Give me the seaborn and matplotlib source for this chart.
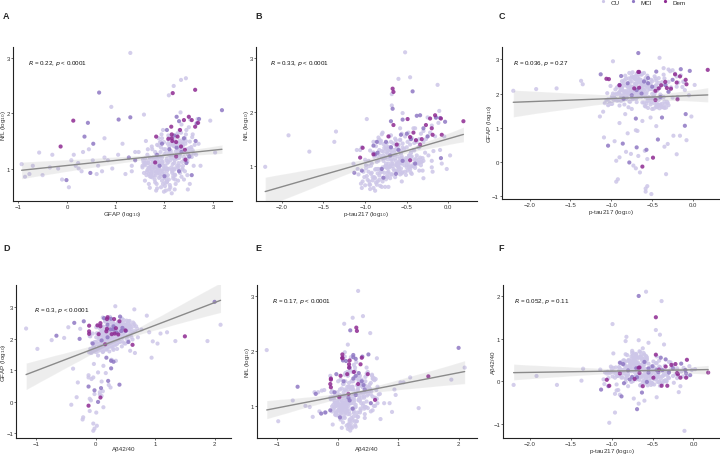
import pandas as pd
import numpy as np
import matplotlib
matplotlib.use("Agg")
import matplotlib.pyplot as plt
from matplotlib.lines import Line2D
import seaborn as sns


# CU - scattered / outlying subjects
out_gfap = [2.08, 2.13, 2.15, 2.27, 2.37, 1.30, 2.44, 2.34, 2.19, 2.09,
            0.91, 2.45, 1.93, 2.21, 1.93, 2.17, 1.92, 1.40, 2.21, 2.74,
            2.94, 3.04, 2.33, 1.68, 1.96, 2.03, 2.37, 2.32, 2.05, 2.30,
            1.85]
out_nfl = [0.99, 1.57, 1.27, 1.64, 1.45, 3.10, 2.64, 2.61, 2.50, 2.33,
           2.12, 1.70, 1.48, 1.52, 0.96, 1.43, 1.20, 1.30, 0.89, 1.05,
           1.87, 1.29, 2.02, 0.72, 1.10, 1.00, 0.98, 1.28, 0.76, 1.05,
           1.43]
out_ptau = [-2.20, -1.92, -1.67, -1.35, -1.37, -0.52, -0.46, -0.60, -0.13, -0.68,
            -0.68, -0.58, -0.39, -0.46, -0.99, -0.41, -0.67, -0.83, -0.55, -0.36,
            -0.98, -0.41, -0.11, -1.03, -0.96, -0.67, -0.60, -0.18, -0.75, -0.62,
            -0.82]
out_ab = [-0.09, 0.12, -0.09, 0.29, 0.01, 0.34, 0.42, 0.25, 0.11, 0.54,
          0.17, 2.10, 1.88, 1.20, 1.34, 1.09, 0.96, 0.94, 0.90, 0.86,
          0.65, 0.33, -1.17, -0.98, -0.74, -0.53, -0.46, -0.26, 0.71, 0.77,
          1.04]

# CU - low GFAP cluster
low_gfap = [-0.93, -0.86, -0.77, -0.70, -0.57, -0.50, -0.35, -0.30, -0.18, -0.10,
            0.04, 0.09, 0.18, 0.14, 0.23, 0.24, 0.30, 0.33, 0.53, 0.61,
            0.64, 0.72, 0.77, 0.77, 0.84, 0.93, 1.14, 1.33, 1.47, 1.58,
            1.66, 1.33, 1.83, 1.05, 0.45, 1.20]
low_nfl = [1.08, 0.85, 0.90, 1.05, 1.29, 0.88, 1.02, 1.25, 1.00, 0.80,
           0.66, 1.15, 1.05, 1.25, 1.10, 1.00, 0.95, 1.30, 1.15, 0.90,
           1.05, 0.95, 1.20, 1.55, 1.15, 1.00, 1.45, 1.05, 1.30, 1.98,
           1.35, 0.95, 0.60, 1.25, 1.35, 0.90]
low_ptau = [-0.51, -0.58, -0.58, -0.56, -0.94, -0.92, -0.33, -0.65, -0.70, -0.73,
            -0.94, -0.56, -0.67, -0.90, -0.20, -0.76, -0.82, -0.59, -0.31, -0.96,
            -0.08, -1.09, -0.24, -0.16, -0.80, -0.70, -0.90, -1.14, -1.10, -0.55,
            -1.04, -0.02, -1.04, -0.45, -0.35, -0.62]
low_ab = [-0.04, -0.02, 0.02, -0.04, -0.22, -0.21, 0.01, -0.10, 0.13, -0.41,
          -0.08, -0.10, 0.10, -0.32, 0.07, -0.02, 0.07, 0.12, 0.22, -0.30,
          0.10, -0.07, -0.04, -0.12, -0.12, 0.04, 0.13, 0.27, 0.04, 0.12,
          0.18, 0.26, 0.07, -0.38, 0.25, -0.03]

# CU - main cloud
main_gfap = [2.02, 1.88, 2.15, 1.95, 2.31, 2.08, 1.79, 2.22, 1.99, 2.12,
             1.84, 2.27, 2.05, 1.92, 2.18, 2.40, 1.73, 2.10, 1.97, 2.25,
             1.86, 2.03, 2.14, 1.90, 2.35, 2.00, 1.81, 2.20, 2.07, 1.94,
             2.29, 2.11, 1.77, 2.45, 1.98, 2.16, 1.89, 2.33, 2.04, 1.70,
             2.21, 1.93, 2.09, 2.38, 1.85, 2.13, 2.01, 1.96, 2.24, 1.82,
             2.06, 2.28, 1.91, 2.17, 1.75, 2.50, 1.99, 2.12, 1.87, 2.32,
             2.03, 1.80, 2.19, 1.95, 2.42, 2.08, 1.68, 2.23, 1.94, 2.15,
             1.88, 2.36, 2.00, 1.83, 2.26, 2.10, 1.90, 2.55, 2.02, 1.78,
             2.18, 1.97, 2.30, 2.05, 1.86, 2.14, 2.47, 1.93, 2.21, 1.76,
             2.09, 2.00, 2.34, 1.84, 2.12, 1.98, 2.27, 1.72, 2.06, 2.40,
             1.91, 2.16, 2.04, 1.95, 2.20, 1.89, 2.11, 2.02, 2.29, 1.96,
             2.60, 1.65, 2.08, 2.37, 1.85, 2.13, 1.99, 2.22, 1.92, 2.05,
             2.18, 1.81, 2.44, 2.00, 2.07, 1.60, 2.52, 1.74, 2.31, 2.15,
             1.88, 2.58, 2.65, 2.50, 1.62, 2.35, 1.70, 2.70, 1.55, 2.48,
             2.20, 1.90, 2.05, 2.10, 1.95, 2.25, 2.53, 2.68]
main_nfl = [1.05, 0.92, 1.22, 0.78, 1.35, 1.12, 1.01, 0.88, 1.48, 0.66,
            1.18, 1.02, 0.95, 1.30, 0.82, 1.15, 0.90, 1.40, 0.72, 1.25,
            1.08, 0.60, 1.55, 0.98, 0.85, 1.26, 0.75, 1.10, 0.88, 1.62,
            0.98, 0.70, 1.20, 1.30, 1.05, 0.92, 0.83, 1.45, 1.15, 1.02,
            0.62, 1.38, 0.80, 1.05, 0.96, 1.32, 0.68, 1.12, 1.60, 0.87,
            1.00, 0.78, 1.22, 1.08, 1.35, 1.20, 0.58, 1.45, 1.00, 0.92,
            1.28, 0.80, 1.18, 0.90, 0.95, 1.52, 1.10, 0.72, 1.15, 0.98,
            1.42, 1.12, 0.82, 1.25, 1.05, 0.62, 1.05, 1.35, 1.35, 0.94,
            0.86, 1.70, 1.22, 0.75, 1.12, 1.02, 0.88, 0.66, 1.40, 1.15,
            1.25, 0.90, 1.65, 0.72, 1.15, 1.00, 1.30, 0.85, 1.10, 0.80,
            1.48, 0.95, 0.85, 1.20, 1.00, 1.10, 1.30, 0.74, 1.10, 0.95,
            1.05, 1.25, 1.60, 1.00, 0.64, 1.20, 1.35, 0.80, 0.85, 1.18,
            1.50, 1.30, 1.50, 0.98, 1.45, 0.78, 0.72, 1.40, 1.70, 0.55,
            1.55, 1.62, 1.25, 1.75, 1.50, 1.80, 0.65, 1.45, 1.05, 0.62,
            0.98, 0.90, 0.78, 1.30, 1.55, 1.20, 1.89, 1.90]
main_ptau = [-0.72, -0.81, -0.64, -0.88, -0.55, -0.69, -0.93, -0.77, -0.58, -0.95,
             -0.70, -0.62, -0.84, -0.66, -0.74, -0.51, -1.02, -0.60, -0.79, -0.45,
             -0.86, -0.90, -0.52, -0.75, -0.68, -0.57, -0.97, -0.63, -0.82, -0.48,
             -0.71, -0.87, -0.78, -0.42, -0.92, -0.65, -0.83, -0.38, -0.76, -0.99,
             -0.80, -0.61, -0.89, -0.58, -0.73, -0.53, -1.05, -0.67, -0.33, -0.85,
             -0.74, -0.70, -0.88, -0.59, -0.69, -0.47, -0.94, -0.49, -0.96, -0.62,
             -0.80, -0.91, -0.56, -0.72, -0.66, -0.44, -0.84, -0.85, -0.64, -0.79,
             -0.55, -0.50, -0.98, -0.74, -0.60, -0.76, -0.68, -0.36, -0.71, -0.88,
             -0.93, -0.40, -0.57, -0.83, -1.00, -0.63, -0.73, -0.86, -0.46, -0.77,
             -0.65, -0.80, -0.30, -0.95, -0.70, -0.60, -0.54, -1.08, -0.78, -0.64,
             -0.63, -0.87, -0.68, -0.82, -0.75, -0.58, -0.73, -0.91, -0.52, -0.85,
             -0.60, -0.90, -0.56, -0.45, -0.82, -0.66, -0.50, -1.01, -0.70, -0.61,
             -0.27, -1.06, -0.35, -0.47, -0.85, -0.79, -0.56, -0.62, -0.42, -0.88,
             -0.25, -0.22, -0.28, -0.20, -0.45, -0.12, -1.00, -0.30, -0.75, -0.72,
             -0.20, -0.19, -0.30, -0.10, -0.05, 0.02, -0.15, -0.25]
main_ab = [0.21, 0.15, 0.30, 0.08, 0.41, 0.26, 0.12, 0.33, 0.05, 0.18,
           0.36, 0.14, 0.44, 0.22, 0.02, 0.27, 0.19, 0.39, 0.31, 0.10,
           0.48, 0.24, 0.17, 0.29, 0.06, 0.52, 0.20, 0.37, 0.13, 0.25,
           0.45, 0.09, 0.28, 0.34, 0.16, 0.58, -0.02, 0.23, 0.40, 0.11,
           0.19, 0.32, 0.26, 0.15, 0.50, 0.07, 0.22, 0.35, 0.18, 0.27,
           0.60, 0.12, 0.42, -0.05, 0.24, 0.30, 0.17, 0.46, 0.08, 0.38,
           0.14, 0.33, 0.21, 0.55, 0.03, 0.28, 0.36, 0.20, 0.10, 0.47,
           0.19, 0.25, 0.31, 0.00, 0.43, 0.23, 0.39, 0.16, 0.34, 0.26,
           0.12, 0.29, 0.50, 0.05, 0.22, 0.30, 0.37, 0.18, 0.09, 0.44,
           -0.10, 0.27, 0.21, 0.32, 0.14, 0.62, 0.26, 0.20, 0.35, 0.11,
           0.40, 0.24, 0.17, 0.33, 0.07, 0.28, 0.53, 0.25, 0.19, 0.38,
           0.23, 0.30, 0.13, 0.42, 0.15, 0.27, 0.20, 0.34, 0.45, 0.01,
           0.31, 0.18, 0.36, 0.12, 0.26, 0.23, 0.28, 0.10, 0.48, 0.21,
           0.37, 0.16, 0.44, 0.27, 0.58, 0.31, 0.29, 0.24, 0.66, 0.30,
           0.30, 0.15, 0.45, 0.25, 0.35, 0.28, 0.22, 0.12]

# CU - upper part of the cloud (high GFAP, high Abeta)
hi_gfap = [2.35, 2.48, 2.22, 2.55, 2.30, 2.42, 2.26, 2.60, 2.38, 2.20,
           2.52, 2.33, 2.45, 2.28, 2.58, 2.24, 2.40, 2.36, 2.50, 2.31,
           2.62, 2.27, 2.44, 2.21, 2.54, 2.39, 2.29, 2.47, 2.34, 2.57,
           2.23, 2.43, 2.32, 2.51, 2.37, 2.25, 2.46, 2.56, 2.19, 2.41]
hi_nfl = [1.32, 1.25, 1.47, 1.39, 1.19, 1.55, 1.35, 1.27, 1.42, 1.23,
          1.49, 1.29, 1.17, 1.45, 1.33, 1.59, 1.21, 1.37, 1.31, 1.51,
          1.43, 1.27, 1.62, 1.15, 1.23, 1.53, 1.39, 1.13, 1.34, 1.57,
          1.31, 1.45, 1.22, 1.37, 1.49, 1.18, 1.35, 1.21, 1.41, 1.29]
hi_ptau = [-0.75, -0.68, -0.81, -0.63, -0.85, -0.71, -0.61, -0.78, -0.66, -0.73,
           -0.83, -0.59, -0.76, -0.69, -0.62, -0.80, -0.65, -0.87, -0.71, -0.64,
           -0.74, -0.57, -0.79, -0.70, -0.67, -0.84, -0.60, -0.73, -0.77, -0.69,
           -0.63, -0.82, -0.66, -0.75, -0.58, -0.89, -0.72, -0.64, -0.78, -0.70]
hi_ab = [0.52, 0.44, 0.61, 0.38, 0.49, 0.57, 0.66, 0.47, 0.55, 0.41,
         0.63, 0.45, 0.58, 0.36, 0.52, 0.48, 0.68, 0.40, 0.54, 0.60,
         0.43, 0.56, 0.50, 0.62, 0.39, 0.46, 0.53, 0.65, 0.42, 0.57,
         0.49, 0.35, 0.70, 0.46, 0.59, 0.44, 0.51, 0.55, 0.38, 0.64]

# CU - lower part of the cloud (lower GFAP, low Abeta)
lo_gfap = [1.72, 1.65, 1.80, 1.58, 1.85, 1.68, 1.76, 1.62, 1.88, 1.70,
           1.55, 1.82, 1.66, 1.78, 1.60, 1.90, 1.74, 1.57, 1.84, 1.69,
           1.79, 1.63, 1.87, 1.71, 1.59, 1.83, 1.67, 1.75, 1.61, 1.89,
           1.73, 1.56, 1.81, 1.64, 1.77, 1.70, 1.86, 1.60, 1.78, 1.68]
lo_nfl = [1.04, 0.97, 1.12, 0.92, 1.17, 0.90, 1.08, 1.14, 1.00, 1.20,
          1.02, 0.94, 1.10, 0.87, 1.18, 1.06, 0.98, 1.12, 0.92, 1.16,
          1.02, 0.88, 1.14, 0.96, 1.08, 1.20, 1.00, 0.84, 1.06, 1.10,
          0.92, 1.16, 1.04, 0.94, 1.12, 0.86, 0.98, 1.10, 1.18, 1.02]
lo_ptau = [-0.48, -0.40, -0.55, -0.35, -0.45, -0.52, -0.32, -0.58, -0.42, -0.38,
           -0.50, -0.46, -0.30, -0.56, -0.44, -0.36, -0.60, -0.41, -0.49, -0.34,
           -0.53, -0.45, -0.39, -0.57, -0.33, -0.47, -0.43, -0.51, -0.37, -0.54,
           -0.31, -0.48, -0.42, -0.59, -0.35, -0.44, -0.50, -0.38, -0.46, -0.40]
lo_ab = [0.05, -0.05, 0.13, 0.01, 0.09, -0.09, 0.15, 0.03, -0.02, 0.11,
         -0.07, 0.17, 0.07, -0.03, 0.12, 0.00, 0.14, -0.11, 0.08, 0.02,
         0.16, 0.06, -0.06, 0.10, -0.01, 0.04, 0.18, -0.04, 0.13, 0.01,
         0.09, -0.08, 0.11, 0.03, 0.15, -0.02, 0.07, -0.05, 0.12, 0.05]

# MCI
mci_gfap = [0.66, 3.18, 2.71, 2.66, 2.25, 2.30, 2.25, 2.51, 2.10, 2.64,
            2.00, 2.56, 1.30, 1.06, 1.40, 1.27, 0.48, 0.54, 0.36, 0.43,
            -0.01, 2.20, 1.95, 2.35, 2.05, 1.85, 2.40, 2.45, 1.90, 2.30]
mci_nfl = [2.38, 2.06, 1.90, 1.82, 1.94, 1.86, 1.38, 1.22, 1.35, 1.50,
           0.86, 0.88, 1.93, 1.89, 1.15, 1.20, 0.92, 1.45, 1.58, 1.83,
           0.79, 1.60, 1.45, 1.30, 1.70, 1.25, 1.55, 1.10, 1.05, 0.95]
mci_ptau = [-0.43, -0.67, -0.15, -0.04, -0.34, -0.55, -0.90, -0.88, -0.69, -0.45,
            -0.63, -1.13, -0.38, -0.10, -0.09, -0.70, -1.04, -0.86, -0.57, -0.69,
            -0.78, -0.50, -0.75, -0.60, -0.30, -0.85, -0.25, -0.55, -0.40, -0.80]
mci_ab = [0.21, 2.00, 0.41, 0.14, 0.51, 0.30, 0.43, -0.36, -0.66, 0.26,
          -0.27, -0.20, 0.26, 0.26, 0.18, 0.30, -0.12, 0.40, -0.02, 0.09,
          0.04, 0.35, 0.10, 0.45, 0.20, -0.05, 0.30, 0.20, 0.55, 0.25]

# Dem
dem_gfap = [2.63, 2.17, 2.69, 2.50, 2.56, 2.63, 2.42, 2.24, 2.43, 2.15,
            2.16, 2.24, 2.32, 1.83, 1.81, 2.08, 2.15, 2.40, 2.14, 2.27,
            2.34, -0.13, 0.13]
dem_nfl = [2.43, 2.37, 1.83, 1.94, 1.88, 1.76, 1.34, 1.22, 1.16, 1.62,
           1.50, 1.48, 1.70, 1.58, 1.11, 1.54, 1.55, 1.88, 1.76, 1.58,
           1.40, 1.40, 1.87]
dem_ptau = [-0.67, -0.66, 0.18, -0.16, -0.22, -0.66, -1.03, -0.90, -1.06, -0.42,
            -0.32, -0.39, -0.20, -0.19, -0.46, -0.46, -0.72, -0.09, -0.27, -0.08,
            -0.34, -0.62, -0.49]
dem_ab = [0.31, 0.32, 0.20, 0.08, 0.40, 0.19, -0.11, 0.18, 0.03, 0.27,
          -0.11, -0.11, 0.19, 0.16, 0.62, 1.50, 0.05, 0.08, 0.38, 0.50,
          0.34, -0.12, 0.08]


# BUILD DATAFRAME
cu = pd.DataFrame({"gfap": out_gfap + low_gfap + main_gfap + hi_gfap + lo_gfap,
                   "nfl": out_nfl + low_nfl + main_nfl + hi_nfl + lo_nfl,
                   "ptau": out_ptau + low_ptau + main_ptau + hi_ptau + lo_ptau,
                   "ab": out_ab + low_ab + main_ab + hi_ab + lo_ab})
cu["group"] = "CU"
mci = pd.DataFrame({"gfap": mci_gfap, "nfl": mci_nfl, "ptau": mci_ptau, "ab": mci_ab})
mci["group"] = "MCI"
dem = pd.DataFrame({"gfap": dem_gfap, "nfl": dem_nfl, "ptau": dem_ptau, "ab": dem_ab})
dem["group"] = "Dem"
data = pd.concat([cu, mci, dem], ignore_index=True)

palette = {"CU": "#cdc6e8", "MCI": "#8f78c4", "Dem": "#8e2a92"}

sns.set_theme(style="ticks")
plt.rcParams["font.family"] = ["Liberation Sans", "DejaVu Sans"]

log10 = "(log$_{10}$)"
ptau_ticks = [-2.0, -1.5, -1.0, -0.5, 0.0]
panels = [
    # letter, x, y, xlabel, ylabel, text, rect, xlim, ylim, xticks, yticks, text pos, letter pos
    ("A", "gfap", "nfl", "GFAP " + log10, "NfL " + log10, "$R$ = 0.22, $p$ < 0.0001",
     [0.0185, 0.557, 0.304, 0.338], (-1.1, 3.39), (0.41, 3.21), [-1, 0, 1, 2, 3], [1, 2, 3],
     (0.068, 0.90), (0.004, 0.963)),
    ("B", "ptau", "nfl", "p-tau217 " + log10, "NfL " + log10, "$R$ = 0.33, $p$ < 0.0001",
     [0.3556, 0.557, 0.307, 0.338], (-2.31, 0.344), (0.36, 3.2), ptau_ticks, [1, 2, 3],
     (0.063, 0.90), (0.355, 0.963)),
    ("C", "ptau", "gfap", "p-tau217 " + log10, "GFAP " + log10, "$R$ = 0.036, $p$ = 0.27",
     [0.697, 0.561, 0.303, 0.334], (-2.34, 0.33), (-1.08, 3.36), ptau_ticks, [-1, 0, 1, 2, 3],
     (0.05, 0.90), (0.692, 0.963)),
    ("D", "ab", "gfap", "A\u03b242/40", "GFAP " + log10, "$R$ = 0.3, $p$ < 0.0001",
     [0.0222, 0.038, 0.299, 0.335], (-1.34, 2.28), (-1.15, 3.72), [-1, 0, 1, 2], [-1, 0, 1, 2, 3],
     (0.083, 0.84), (0.004, 0.454)),
    ("E", "ab", "nfl", "A\u03b242/40", "NfL " + log10, "$R$ = 0.17, $p$ < 0.0001",
     [0.357, 0.038, 0.306, 0.335], (-1.33, 2.31), (0.42, 3.21), [-1, 0, 1, 2], [1, 2, 3],
     (0.068, 0.90), (0.355, 0.454)),
    ("F", "ptau", "ab", "p-tau217 " + log10, "A\u03b242/40", "$R$ = 0.052, $p$ = 0.11",
     [0.6986, 0.038, 0.302, 0.335], (-2.33, 0.33), (-1.33, 2.26), ptau_ticks, [-1, 0, 1, 2],
     (0.05, 0.90), (0.692, 0.454)),
]

fig = plt.figure(figsize=(7.2, 4.56), dpi=100)

for letter, xv, yv, xl, yl, txt, rect, xlim, ylim, xt, yt, tpos, lpos in panels:
    ax = fig.add_axes(rect)
    sns.scatterplot(data=data, x=xv, y=yv, hue="group", hue_order=["CU", "MCI", "Dem"],
                    palette=palette, s=9, linewidth=0, alpha=0.85, legend=False, ax=ax)
    sns.regplot(data=data, x=xv, y=yv, scatter=False, ci=95, seed=0, color="#8a8a8a",
                line_kws={"lw": 1.0}, ax=ax)
    ax.set_xlim(xlim)
    ax.set_ylim(ylim)
    ax.set_xticks(xt)
    ax.set_yticks(yt)
    ax.set_xlabel(xl, fontsize=4.5, labelpad=0.2, color="#333333")
    ax.set_ylabel(yl, fontsize=4.5, color="#333333")
    # y label sits just left of the tick labels
    off = 7.5 if min(yt) < 0 else 5.5
    ax.yaxis.set_label_coords(-off / (rect[2] * 720), 0.5)
    ax.tick_params(labelsize=4.3, length=1.6, width=0.5, pad=0.5, colors="#333333")
    sns.despine(ax=ax)
    for s in ["left", "bottom"]:
        ax.spines[s].set_linewidth(0.8)
        ax.spines[s].set_color("#222222")
    ax.text(tpos[0], tpos[1], txt, transform=ax.transAxes, fontsize=4.5, color="#111111",
            va="center")
    fig.text(lpos[0], lpos[1], letter, fontsize=6.5, fontweight="bold", va="center")

# LEGEND
handles = [Line2D([], [], marker="o", ls="", markersize=2.3, markeredgewidth=0,
                  color=palette[g]) for g in ["CU", "MCI", "Dem"]]
fig.legend(handles, ["CU", "MCI", "Dem"], loc="upper right", bbox_to_anchor=(0.96, 1.012),
           ncol=3, frameon=False, fontsize=4.5, handlelength=1.0, handletextpad=0.7,
           columnspacing=1.6)

fig.savefig("out.png", dpi=100)
